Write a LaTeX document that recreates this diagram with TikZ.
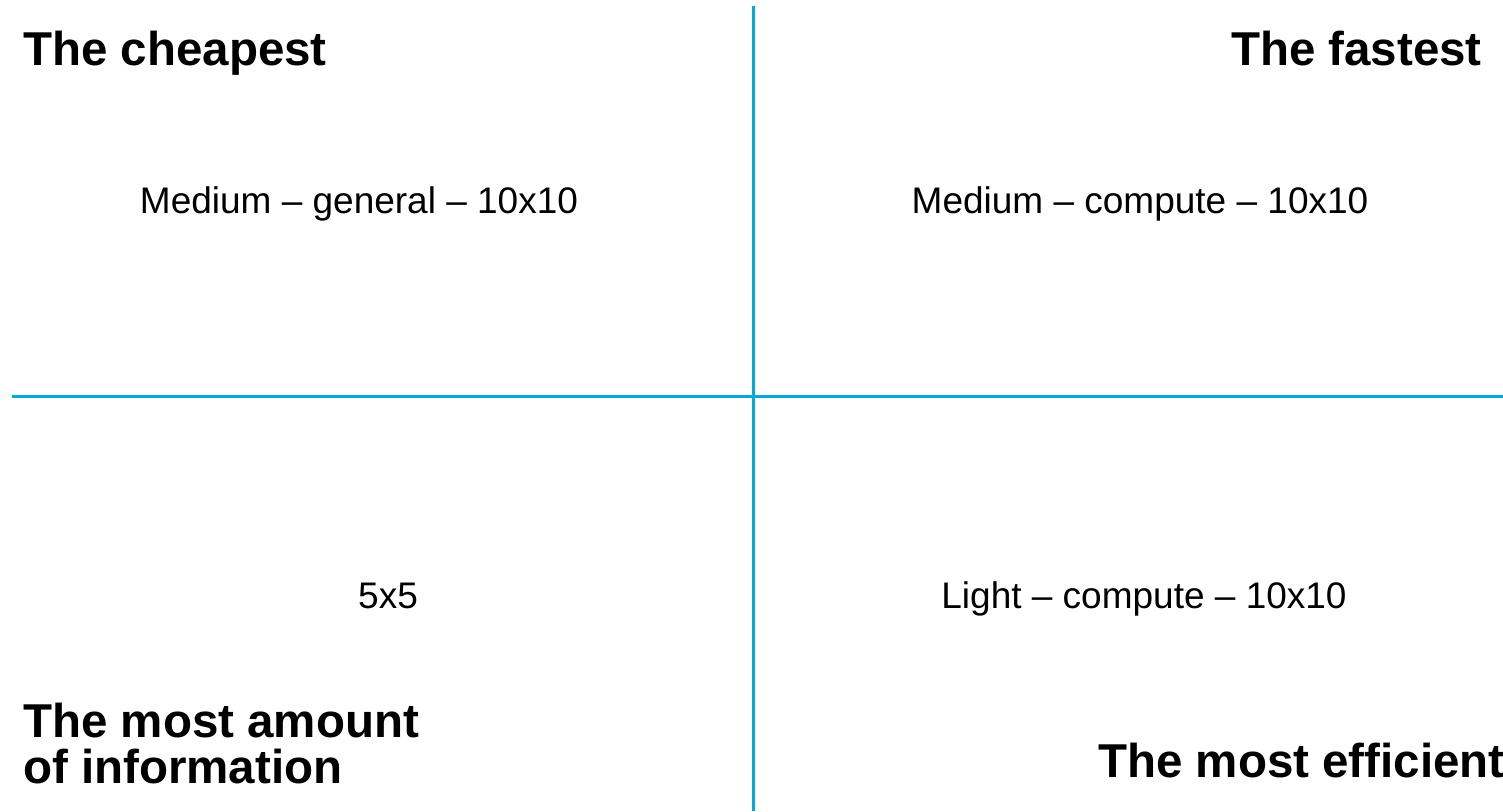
\documentclass[tikz,border=0pt]{standalone}
\usepackage{fontspec}
\setmainfont{Liberation Sans}
\definecolor{axisblue}{RGB}{0,170,222}
\begin{document}
\begin{tikzpicture}[x=1pt,y=-1pt,
  axis/.style={draw=axisblue,line width=3.3pt},
  title/.style={inner sep=0pt,font=\fontsize{47.5}{47.5}\selectfont\bfseries},
  label/.style={inner sep=0pt,font=\fontsize{37}{37}\selectfont}]
\useasboundingbox (0,0) rectangle (1503,811);
\coordinate (vt) at (753.5,6);
\coordinate (vb) at (753.5,811);
\coordinate (hl) at (12,396.5);
\coordinate (hr) at (1503,396.5);
\draw[axis] (vt) -- (vb);
\draw[axis] (hl) -- (hr);
\node[title,anchor=base west] (cheap) at (23,65) {The cheapest};
\node[title,anchor=base east] (fast) at (1482,65) {The fastest};
\node[label,anchor=base] (mg) at (359,213) {Medium – general – 10x10};
\node[label,anchor=base] (mc) at (1140,213) {Medium – compute – 10x10};
\node[label,anchor=base] (five) at (388,608) {5x5};
\node[label,anchor=base] (lc) at (1144,608) {Light – compute – 10x10};
\node[title,anchor=base west] (most) at (23,737) {The most amount};
\node[title,anchor=base west] (info) at (23,783) {of information};
\node[title,anchor=base west] (eff) at (1098,777) {The most efficient};
\end{tikzpicture}
\end{document}
